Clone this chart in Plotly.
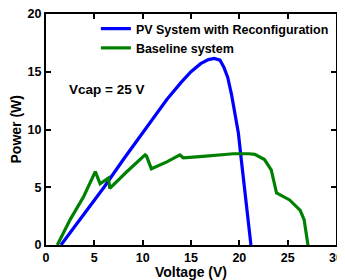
import plotly.graph_objects as go

# PV System with Reconfiguration (blue)
pv_v = [1.55, 3.0, 4.2, 6.0, 8.0, 9.5, 11.0, 12.5, 14.0, 15.0, 16.0, 16.8, 17.4, 18.0, 18.4, 18.8, 19.2, 19.5, 19.9, 20.2, 20.5, 20.8, 21.2]
pv_p = [0.0, 1.6, 3.0, 5.0, 7.4, 9.1, 10.9, 12.6, 14.1, 15.0, 15.7, 16.05, 16.15, 16.0, 15.4, 14.5, 13.0, 11.5, 9.7, 7.4, 5.0, 2.6, 0.0]

# Baseline system (green)
base_v = [1.17, 2.5, 3.9, 4.8, 5.1, 5.6, 6.45, 6.6, 8.3, 10.25, 10.4, 10.9, 12.5, 13.85, 14.2, 15.9, 17.5, 19.4, 21.0, 21.6, 22.6, 23.3, 23.85, 25.2, 26.3, 26.7, 27.1]
base_p = [0.0, 2.2, 4.2, 5.9, 6.35, 5.3, 5.8, 4.9, 6.3, 7.8, 7.7, 6.6, 7.2, 7.8, 7.55, 7.65, 7.75, 7.9, 7.9, 7.85, 7.4, 6.5, 4.5, 3.9, 3.0, 2.2, 0.0]

x_ticks = [0, 5, 10, 15, 20, 25, 30]
y_ticks = [0, 5, 10, 15, 20]

FONT = "Liberation Sans, Arial"

fig = go.Figure()
fig.add_trace(go.Scatter(x=pv_v, y=pv_p, mode="lines", name="PV System with Reconfiguration",
                         line=dict(color="#0000FF", width=3.2)))
fig.add_trace(go.Scatter(x=base_v, y=base_p, mode="lines", name="Baseline system",
                         line=dict(color="#008000", width=3.2)))

# page body adds an 8px offset; figure sized to compensate
fig.update_layout(
    width=337, height=272,
    margin=dict(l=38, r=9, t=6, b=35, autoexpand=False),
    plot_bgcolor="white", paper_bgcolor="white",
    font=dict(family=FONT, size=12, color="black"),
    showlegend=True,
    legend=dict(x=0.172, y=1.0, xanchor="left", yanchor="top", bgcolor="rgba(0,0,0,0)",
                font=dict(family=FONT, size=12.5, color="black", weight="bold"),
                tracegroupgap=0, itemwidth=30),
    annotations=[
        dict(x=2.2, y=13.5, xref="x", yref="y", text="<b>Vcap = 25 V</b>", showarrow=False,
             xanchor="left", yanchor="middle", font=dict(family=FONT, size=13.5, color="black")),
        dict(x=-31 / 290, y=0.5, xref="paper", yref="paper", text="<b>Power (W)</b>", showarrow=False,
             textangle=-90, xanchor="center", yanchor="middle",
             font=dict(family=FONT, size=14, color="black")),
    ],
)
fig.update_xaxes(range=[0, 30], tickvals=x_ticks, ticktext=[str(v) for v in x_ticks],
                 showline=True, linecolor="black", linewidth=2, mirror="ticks",
                 ticks="inside", ticklen=5, tickwidth=1.5, tickcolor="black",
                 showgrid=False, zeroline=False, automargin=False, ticklabeloverflow="allow",
                 tickfont=dict(family=FONT, size=12.5, color="black", weight="bold"),
                 title=dict(text="<b>Voltage (V)</b>", standoff=0,
                            font=dict(family=FONT, size=14, color="black")))
fig.update_yaxes(range=[0, 20], tickvals=y_ticks, ticktext=[str(v) for v in y_ticks],
                 showline=True, linecolor="black", linewidth=2, mirror="ticks",
                 ticks="inside", ticklen=5, tickwidth=1.5, tickcolor="black",
                 showgrid=False, zeroline=False, automargin=False, ticklabeloverflow="allow",
                 tickfont=dict(family=FONT, size=12.5, color="black", weight="bold"))

fig.write_html("out.html")
